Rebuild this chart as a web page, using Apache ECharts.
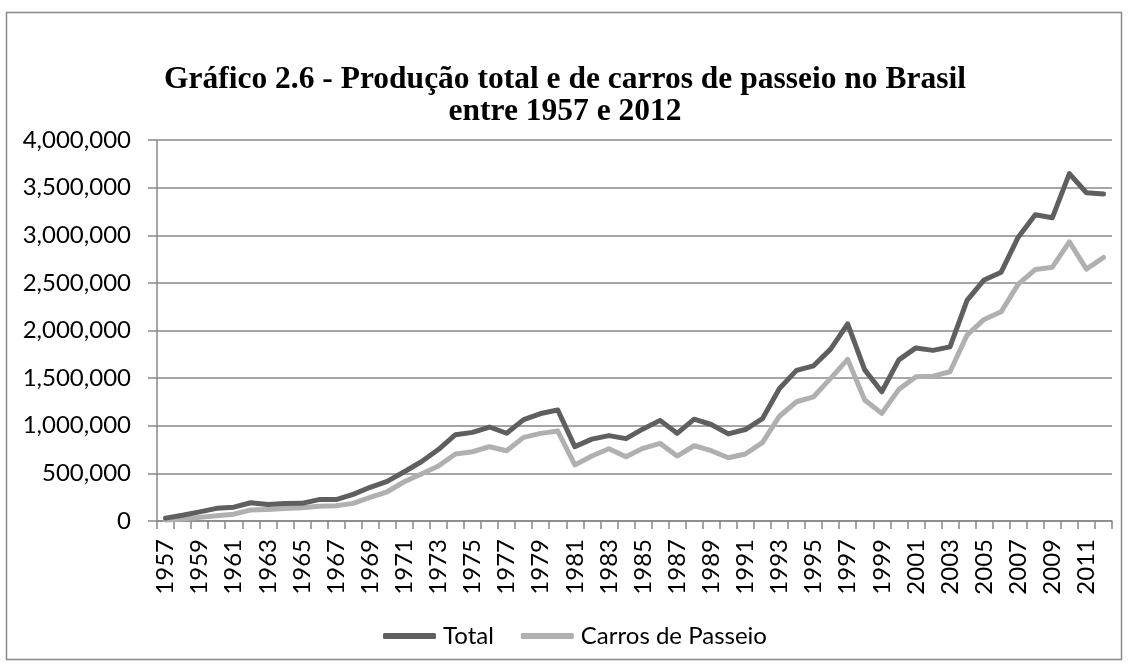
<!DOCTYPE html>
<html>
<head>
<meta charset="utf-8">
<script src="https://cdn.jsdelivr.net/npm/echarts@6/dist/echarts.min.js"></script>
<style>
  html, body { margin: 0; padding: 0; background: #fff; }
  #chart { width: 1128px; height: 666px; }
</style>
</head>
<body>
<div id="chart"></div>
<script>
// anos 1957 - 2012
const years = []
for (let y = 1957; y <= 2012; y++) years.push(String(y))

// produção total
const total = [
  30542, 60983, 96114, 133041, 145584, 191194, 174191, 183707, 185187, 224609,
  225487, 279715, 353700, 416089, 516964, 622171, 750376, 905920, 930235, 986611,
  921193, 1064014, 1127966, 1165174, 780883, 859270, 896462, 864653, 966708, 1056332,
  920071, 1068756, 1013252, 914466, 960219, 1073861, 1391435, 1581389, 1629008, 1804328,
  2069703, 1586291, 1356714, 1691240, 1817116, 1791530, 1827791, 2317227, 2530840, 2612329,
  2980108, 3215976, 3182923, 3646133, 3446000, 3432000
]

// carros de passeio
const carros = [
  10000, 21000, 38000, 56000, 72000, 115000, 122000, 132000, 140000, 155000,
  160000, 185000, 249000, 307000, 412000, 493000, 577000, 703000, 727000, 780000,
  738000, 878000, 920000, 944000, 588000, 682000, 759000, 675000, 763000, 815000,
  682000, 790000, 738000, 664000, 703000, 822000, 1100000, 1252000, 1304000, 1497000,
  1697000, 1270000, 1130000, 1382000, 1514000, 1521000, 1567000, 1952000, 2116000, 2196000,
  2487000, 2640000, 2665000, 2931000, 2645000, 2767000
]

const yTicks = { min: 0, max: 4000000, interval: 500000 }

const titleText = 'Gráfico 2.6 - Produção total e de carros de passeio no Brasil\nentre 1957 e 2012'

const gray = '#888888'
const labelFont = 'Lato'
const labelSize = 24

const chart = echarts.init(document.getElementById('chart'))

const option = {
  animation: false,
  backgroundColor: '#ffffff',
  graphic: [
    {
      type: 'rect',
      shape: { x: 6.5, y: 12.5, width: 1115, height: 647 },
      style: { fill: 'none', stroke: gray, lineWidth: 1.5 },
      silent: true
    },
    {
      // título em duas linhas, centralizado
      type: 'text',
      x: 565,
      y: 64,
      silent: true,
      style: {
        text: titleText,
        align: 'center',
        verticalAlign: 'top',
        fontFamily: 'Liberation Serif',
        fontWeight: 'bold',
        fontSize: 31.5,
        lineHeight: 32,
        fill: '#000'
      }
    }
  ],
  legend: {
    left: 378,
    top: 619,
    itemWidth: 53,
    itemHeight: 6,
    itemGap: 27,
    icon: 'roundRect',
    textStyle: { fontFamily: labelFont, fontSize: labelSize, color: '#000', padding: [0, 0, 0, 2] },
    data: ['Total', 'Carros de Passeio']
  },
  grid: {
    left: 157,
    right: 16,
    top: 140,
    bottom: 145,
    containLabel: false
  },
  xAxis: {
    type: 'category',
    data: years,
    boundaryGap: true,
    axisLine: { lineStyle: { color: gray, width: 1.5 } },
    axisTick: { show: true, interval: 0, length: 8, lineStyle: { color: gray, width: 1.5 } },
    axisLabel: {
      interval: 1,
      rotate: 90,
      margin: 18,
      fontFamily: labelFont,
      fontSize: labelSize,
      color: '#000'
    },
    splitLine: { show: false }
  },
  yAxis: {
    type: 'value',
    min: yTicks.min,
    max: yTicks.max,
    interval: yTicks.interval,
    axisLine: { show: true, lineStyle: { color: gray, width: 1.5 } },
    axisTick: { show: true, length: 9, lineStyle: { color: gray, width: 1.5 } },
    axisLabel: {
      margin: 26,
      fontFamily: labelFont,
      fontSize: labelSize,
      color: '#000',
      formatter: v => v.toLocaleString('en-US')
    },
    splitLine: { show: true, lineStyle: { color: gray, width: 1.5 } }
  },
  series: [
    {
      name: 'Total',
      type: 'line',
      data: total,
      symbol: 'none',
      z: 3,
      lineStyle: { color: '#5f5f5f', width: 5, join: 'round', cap: 'round' },
      itemStyle: { color: '#5f5f5f' }
    },
    {
      name: 'Carros de Passeio',
      type: 'line',
      data: carros,
      symbol: 'none',
      z: 2,
      lineStyle: { color: '#b0b0b0', width: 5, join: 'round', cap: 'round' },
      itemStyle: { color: '#b0b0b0' }
    }
  ]
}

chart.setOption(option)
</script>
</body>
</html>
